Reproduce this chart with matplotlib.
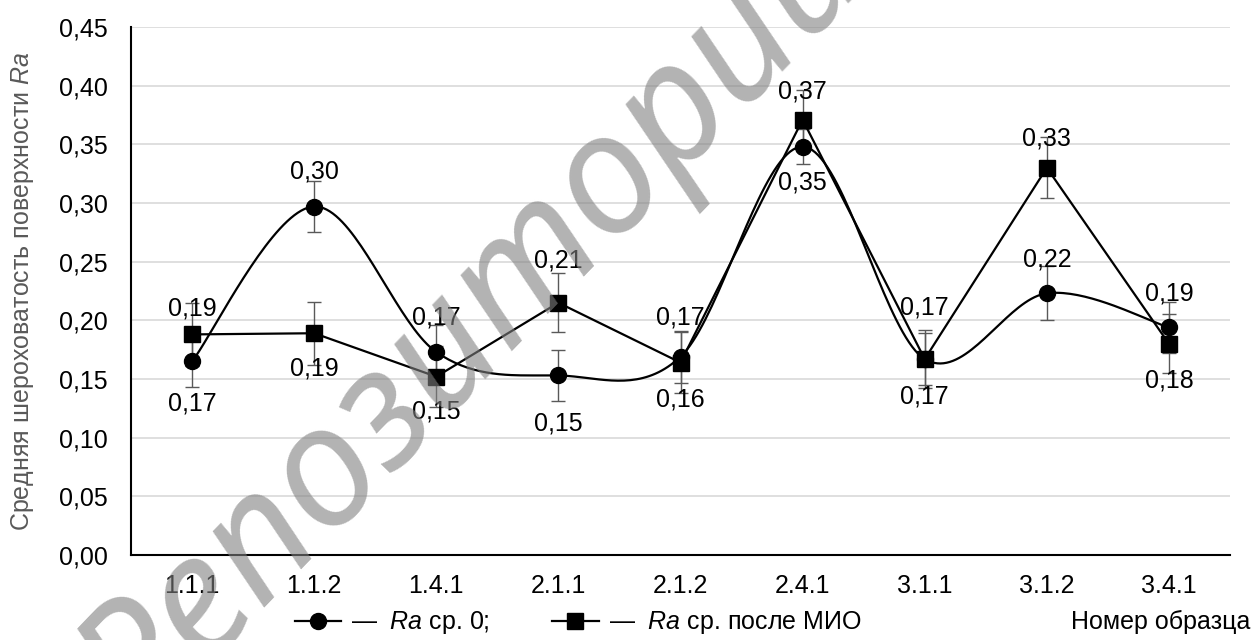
import numpy as np
import matplotlib.pyplot as plt
from matplotlib.lines import Line2D
from matplotlib.ticker import FuncFormatter, MultipleLocator

plt.rcParams['font.family'] = ['Liberation Sans', 'DejaVu Sans']
plt.rcParams['mathtext.fontset'] = 'custom'
plt.rcParams['mathtext.rm'] = 'Liberation Sans'
plt.rcParams['mathtext.it'] = 'Liberation Sans:italic'

samples = ['1.1.1', '1.1.2', '1.4.1', '2.1.1', '2.1.2', '2.4.1', '3.1.1', '3.1.2', '3.4.1']
ra0 = [0.165, 0.297, 0.173, 0.153, 0.169, 0.348, 0.167, 0.223, 0.194]
ra0_err = [0.022, 0.022, 0.023, 0.022, 0.022, 0.015, 0.022, 0.023, 0.022]
ra0_text = ['0,17', '0,30', '0,17', '0,15', '0,17', '0,35', '0,17', '0,22', '0,19']
ra_mio = [0.188, 0.189, 0.152, 0.215, 0.164, 0.371, 0.167, 0.330, 0.180]
ra_mio_err = [0.027, 0.027, 0.026, 0.025, 0.026, 0.025, 0.025, 0.026, 0.025]
ra_mio_text = ['0,19', '0,19', '0,15', '0,21', '0,16', '0,37', '0,17', '0,33', '0,18']

# label offsets in pixels (positive = up)
off0 = [-42, 35, 35, -48, 39, -36, 52, 34, 34]
off_mio = [26, -35, -35, 42, -37, 28, -37, 29, -37]

fs = 18
x = np.arange(len(samples))

fig = plt.figure(figsize=(12.55, 6.4), dpi=100)
ax = fig.add_axes([131/1255, 1-555/640, 1099/1255, 528/640])
ax.set_xlim(-0.5, 8.5)
ax.set_ylim(0, 0.45)


def excel_smooth(xs, ys, sx, sy, n=40):
    p = np.column_stack([np.asarray(xs, float)*sx, np.asarray(ys, float)*sy])
    pts = np.vstack([p[0], p, p[-1]])
    t = np.linspace(0, 1, n)[:, None]
    segs = []
    for i in range(1, len(pts)-2):
        p0, p1, p2, p3 = pts[i-1], pts[i], pts[i+1], pts[i+2]
        b1 = p1 + (p2 - p0)/6
        b2 = p2 - (p3 - p1)/6
        segs.append((1-t)**3*p1 + 3*(1-t)**2*t*b1 + 3*(1-t)*t**2*b2 + t**3*p2)
    c = np.vstack(segs)
    return c[:, 0]/sx, c[:, 1]/sy


sx = 1099/9
sy = 528/0.45
cx, cy = excel_smooth(x, ra0, sx, sy)

ax.errorbar(x, ra0, yerr=ra0_err, fmt='none', ecolor='#595959', elinewidth=1,
            capsize=4.7, capthick=1, zorder=2)
ax.errorbar(x, ra_mio, yerr=ra_mio_err, fmt='none', ecolor='#595959', elinewidth=1,
            capsize=4.7, capthick=1, zorder=2)
ax.plot(cx, cy, color='black', lw=1.6, zorder=3)
ax.plot(x, ra0, 'o', color='black', ms=11.5, zorder=4)
ax.plot(x, ra_mio, 's-', color='black', lw=1.6, ms=12, zorder=4)

for i in range(len(x)):
    ax.annotate(ra0_text[i], (x[i], ra0[i]), xytext=(0, off0[i]), textcoords='offset pixels',
                ha='center', va='center', fontsize=fs, color='black', zorder=5)
    ax.annotate(ra_mio_text[i], (x[i], ra_mio[i]), xytext=(0, off_mio[i]), textcoords='offset pixels',
                ha='center', va='center', fontsize=fs, color='black', zorder=5)

ax.yaxis.set_major_locator(MultipleLocator(0.05))
ax.yaxis.set_major_formatter(FuncFormatter(lambda v, p: f'{v:.2f}'.replace('.', ',')))
ax.set_xticks(x)
ax.set_xticklabels(samples)
ax.tick_params(axis='y', length=0, pad=17, labelsize=fs)
ax.tick_params(axis='x', length=0, pad=14, labelsize=fs)
ax.grid(axis='y', color='#d9d9d9', lw=1.2)
ax.set_axisbelow(True)
for s in ['top', 'right']:
    ax.spines[s].set_visible(False)
for s in ['left', 'bottom']:
    ax.spines[s].set_linewidth(1.5)
    ax.spines[s].set_zorder(3)

ax.set_ylabel(r'Средняя шероховатость поверхности $\mathit{Ra}$', fontsize=fs, color='#595959')
ax.yaxis.set_label_coords(-0.086, 0.5)

fig.text(1250/1255, 1-622/640, 'Номер образца', ha='right', va='center', fontsize=fs)

handles = [Line2D([], [], color='black', lw=1.6, marker='o', ms=11.5),
           Line2D([], [], color='black', lw=1.6, marker='s', ms=12)]
labels = [r'—  $\mathit{Ra}$ ср. 0;', r'—  $\mathit{Ra}$ ср. после МИО']
fig.legend(handles, labels, loc='center', bbox_to_anchor=(578/1255, 1-623/640),
           ncol=2, frameon=False, fontsize=fs, handlelength=1.85, handletextpad=0.4,
           columnspacing=2.5)

# watermark
fig.text(475/1255, 1-322/640, 'Репозиторий', rotation=46, ha='center', va='center',
         fontsize=120, family='Noto Sans', style='italic', color='#808080', alpha=0.6,
         zorder=10)

fig.savefig('out.png', dpi=100)
